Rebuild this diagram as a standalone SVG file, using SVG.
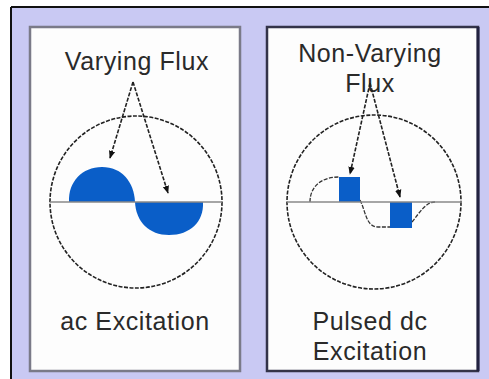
<svg xmlns="http://www.w3.org/2000/svg" width="489" height="379" viewBox="0 0 489 379">
<style>
.lbl{font-family:"Liberation Sans",Arial,sans-serif;font-size:25px;fill:#2a2a2a;text-anchor:middle;letter-spacing:0.6px}
.circ{fill:none;stroke:#222;stroke-width:1.6;stroke-dasharray:4 1.5}
.axis{stroke:#888;stroke-width:1.5}
.arr{fill:none;stroke:#222;stroke-width:1.6;stroke-dasharray:4 1.5;marker-end:url(#ah)}
.blue{fill:#0a5ec8}
.dcurve{fill:none;stroke:#333;stroke-width:1.3;stroke-dasharray:4 1.5}
</style>
<defs>
<marker id="ah" viewBox="0 0 10 10" refX="9" refY="5" markerWidth="8" markerHeight="8" orient="auto" markerUnits="userSpaceOnUse">
<path d="M0,1 L10,5 L0,9 Z" fill="#111"/>
</marker>
</defs>
<rect x="0" y="0" width="489" height="379" fill="#ffffff"/>
<rect x="11" y="7" width="478" height="372" fill="#c9c9f3"/>
<line x1="11" y1="7" x2="489" y2="7" stroke="#111" stroke-width="2"/>
<line x1="11" y1="7" x2="11" y2="379" stroke="#111" stroke-width="2"/>

<g id="panel-ac">
<rect x="30" y="27" width="210" height="344" fill="#fdfdfd" stroke="#7a7a88" stroke-width="2.5"/>
<text class="lbl" x="137" y="70">Varying Flux</text>
<circle class="circ" cx="136" cy="202" r="86"/>
<path class="blue" d="M69,202 C68,182 82,167 102,167 C122,167 134,182 135,202 Z"/>
<path class="blue" d="M135,202 C136,222 149,235 169,235 C190,235 204,222 203,202 Z"/>
<line class="axis" x1="50" y1="202" x2="222" y2="202"/>
<text class="lbl" x="135" y="330">ac Excitation</text>
</g>

<g id="panel-dc">
<rect x="267" y="27" width="211" height="344" fill="#fdfdfd" stroke="#333348" stroke-width="2.5"/>
<line x1="478" y1="27" x2="478" y2="371" stroke="#222240" stroke-width="3"/>
<text class="lbl" x="370" y="62">Non-Varying</text>
<text class="lbl" x="370" y="92">Flux</text>
<circle class="circ" cx="374" cy="202" r="87"/>
<path class="dcurve" d="M310,202 C310,186 322,177 339,177"/>
<path class="dcurve" d="M360,200 C366,212 366,227 378,227 L390,227"/>
<path class="dcurve" d="M412,222 C420,212 426,202 435,202"/>
<rect class="blue" x="339" y="177" width="21" height="25"/>
<rect class="blue" x="390" y="202" width="22" height="26"/>
<line class="axis" x1="287" y1="202" x2="462" y2="202"/>
<text class="lbl" x="370" y="330">Pulsed dc</text>
<text class="lbl" x="370" y="360">Excitation</text>
</g>

<g id="connectors">
<path class="arr" d="M133,82 L110,158"/>
<path class="arr" d="M133,82 L168,193"/>
<path class="arr" d="M370,83 L350,174"/>
<path class="arr" d="M370,83 L400,197"/>
</g>
</svg>
